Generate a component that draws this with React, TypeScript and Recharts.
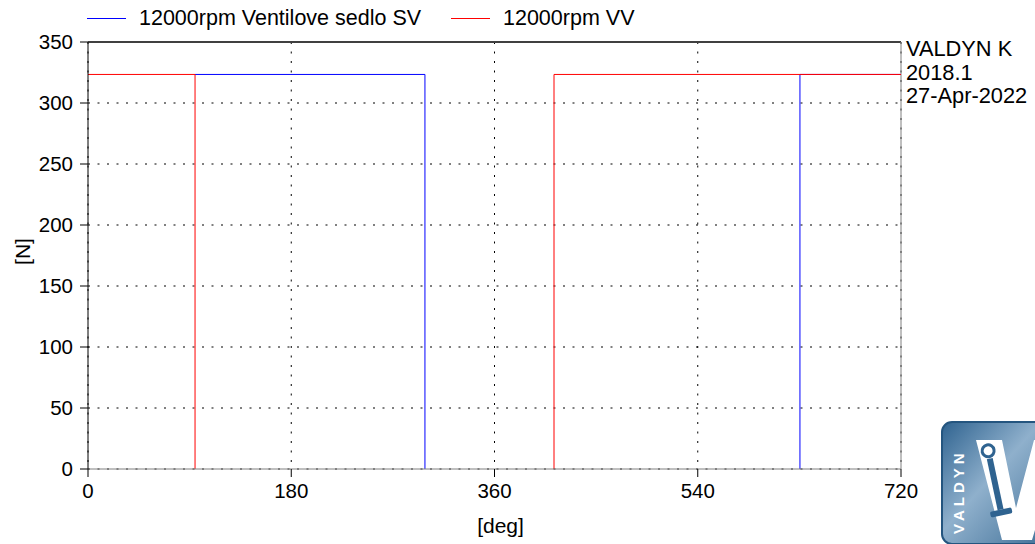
import { LineChart, Line, XAxis, YAxis, CartesianGrid, ReferenceLine } from "recharts";

// 12000rpm Ventilove sedlo SV (blue)
const svDeg = [94.8, 298.4, 298.4, 464, 630.5, 630.5, 720];
const svForce = [323.4, 323.4, 0, null, 0, 323.4, 323.4];

// 12000rpm VV (red)
const vvDeg = [0, 94.8, 94.8, 250, 412.7, 412.7, 720];
const vvForce = [323.4, 323.4, 0, null, 0, 323.4, 323.4];

const degTicks = [0, 180, 360, 540, 720];
const forceTicks = [0, 50, 100, 150, 200, 250, 300, 350];

const stamp = ["VALDYN K", "2018.1", "27-Apr-2022"];

const series = [
  { name: "12000rpm Ventilove sedlo SV", color: "#0000ff", deg: svDeg, force: svForce },
  { name: "12000rpm VV", color: "#ff0000", deg: vvDeg, force: vvForce },
];

const font = "'Liberation Sans', Arial, sans-serif";

function YTitle(props: any) {
  const { x, y, height } = props.viewBox;
  const cx = x + 22;
  const cy = y + height / 2 - 4;
  return (
    <text x={cx} y={cy} transform={`rotate(-90, ${cx}, ${cy})`} textAnchor="middle" dominantBaseline="central" fill="#000" fontSize={21} fontFamily={font}>
      [N]
    </text>
  );
}

function XTitle(props: any) {
  const { x, y, width } = props.viewBox;
  return (
    <text x={x + width / 2 + 6} y={y + 56} textAnchor="middle" dominantBaseline="central" fill="#000" fontSize={21} fontFamily={font}>
      [deg]
    </text>
  );
}

function Logo() {
  return (
    <svg width={100} height={128} style={{ position: "absolute", left: 940, top: 418 }}>
      <defs>
        <linearGradient id="logoBg" x1="0" y1="0" x2="1" y2="1">
          <stop offset="0%" stopColor="#2f6390" />
          <stop offset="45%" stopColor="#8fb0cc" />
          <stop offset="100%" stopColor="#3e6e96" />
        </linearGradient>
      </defs>
      <rect x={2} y={4} width={110} height={122} rx={10} fill="url(#logoBg)" stroke="#24557f" strokeWidth={2} />
      <text x={24} y={116} transform="rotate(-90, 24, 116)" fill="#fff" fontSize={15} fontWeight="bold" fontFamily={font} letterSpacing={4}>
        VALDYN
      </text>
      <polygon points="36,22 62,22 76,90 94,22 122,22 92,122 62,122" fill="#fff" />
      <g transform="rotate(-12, 56, 70)">
        <circle cx={56} cy={32} r={6} fill="none" stroke="#2f6390" strokeWidth={3} />
        <rect x={53} y={40} width={6} height={52} fill="#2f6390" />
        <rect x={45} y={92} width={22} height={6} rx={2} fill="#2f6390" />
      </g>
    </svg>
  );
}

export default function App() {
  return (
    <div style={{ position: "absolute", left: 0, top: 0, width: 1035, height: 544, background: "#fff", fontFamily: font, overflow: "hidden" }}>
      <div style={{ position: "absolute", left: 0, top: 6, height: 24, fontSize: 21.5, color: "#000" }}>
        {series.map((s, i) => (
          <div key={s.name} style={{ position: "absolute", left: i === 0 ? 87 : 451, top: 0, whiteSpace: "nowrap", display: "flex", alignItems: "center" }}>
            <span style={{ display: "inline-block", width: 39, height: 1, background: s.color, marginRight: 13 }} />
            <span>{s.name}</span>
          </div>
        ))}
      </div>
      <div style={{ position: "absolute", left: 906, top: 37, fontSize: 21.8, lineHeight: "23.5px", color: "#000" }}>
        {stamp.map((t) => (
          <div key={t}>{t}</div>
        ))}
      </div>
      <LineChart width={1035} height={544} margin={{ top: 42, right: 134, left: 0, bottom: 0 }} style={{ position: "absolute", left: 0, top: 0 }}>
        <CartesianGrid stroke="#000" strokeDasharray="2 7.5" />
        <XAxis
          type="number"
          dataKey="deg"
          domain={[0, 720]}
          ticks={degTicks}
          height={75}
          tickSize={8}
          tickMargin={6}
          stroke="#808080"
          tick={{ fill: "#000", fontSize: 20.5, fontFamily: font }}
          tickLine={{ stroke: "#000" }}
          allowDuplicatedCategory={false}
          label={<XTitle />}
        />
        <YAxis
          type="number"
          dataKey="force"
          domain={[0, 350]}
          ticks={forceTicks}
          width={88}
          tickSize={8}
          tickMargin={7}
          stroke="#000"
          tick={{ fill: "#000", fontSize: 20.5, fontFamily: font }}
          label={<YTitle />}
        />
        <ReferenceLine y={350} stroke="#404040" strokeWidth={2} />
        <ReferenceLine x={720} stroke="#808080" />
        {series.map((s) => (
          <Line
            key={s.name}
            name={s.name}
            data={s.deg.map((d, i) => ({ deg: d, force: s.force[i] }))}
            dataKey="force"
            type="linear"
            stroke={s.color}
            strokeWidth={1}
            dot={false}
            activeDot={false}
            connectNulls={false}
            isAnimationActive={false}
          />
        ))}
      </LineChart>
      <Logo />
    </div>
  );
}
